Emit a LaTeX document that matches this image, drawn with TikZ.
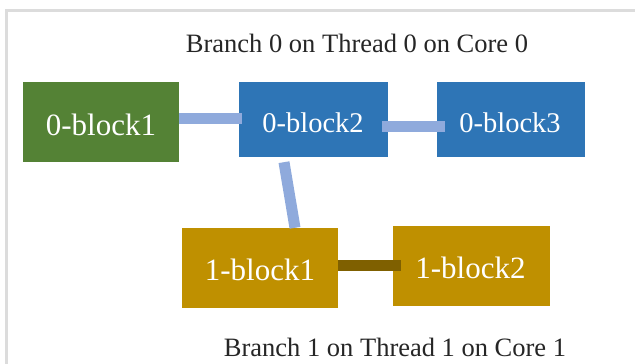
\documentclass[tikz,border=0pt]{standalone}
\usepackage{fontspec}
\setmainfont{Liberation Serif}
\definecolor{cgreen}{HTML}{548235}
\definecolor{cblue}{HTML}{2E75B6}
\definecolor{cgold}{HTML}{BF9000}
\definecolor{clink}{HTML}{8FAADC}
\definecolor{cbrown}{HTML}{7F6000}
\definecolor{cframe}{HTML}{DCDCDC}
\begin{document}
\begin{tikzpicture}[x=1pt,y=-1pt,
  blk/.style={rectangle,inner sep=0pt,text=white},
  bigtxt/.style={font=\fontsize{31}{36}\selectfont},
  midtxt/.style={font=\fontsize{28.5}{34}\selectfont},
  ttl/.style={inner sep=0pt,text=black!85,font=\fontsize{26.5}{32}\selectfont},
  lnk/.style={line width=11pt,clink},
  lnkb/.style={line width=11pt,cbrown}]
\useasboundingbox (0,0) rectangle (635,364);
\fill[white] (0,0) rectangle (635,364);
\draw[cframe,line width=3pt] (6.5,380) -- (6.5,10.5) -- (650,10.5);
\node[ttl] (t0) at (357,43) {Branch 0 on Thread 0 on Core 0};
\node[ttl] (t1) at (395,347) {Branch 1 on Thread 1 on Core 1};
\node[blk,fill=cgreen,minimum width=156pt,minimum height=80pt] (b01) at (101,122) {};
\node[blk,bigtxt] at (101,125) {0-block1};
\node[blk,fill=cblue,minimum width=149pt,minimum height=75pt] (b02) at (313.5,119.5) {};
\node[blk,midtxt] at (313,123) {0-block2};
\node[blk,fill=cblue,minimum width=148pt,minimum height=75pt] (b03) at (511,119.5) {};
\node[blk,midtxt] at (510,123) {0-block3};
\node[blk,fill=cgold,minimum width=156pt,minimum height=80pt] (b11) at (260,268) {};
\node[blk,bigtxt] at (260,270) {1-block1};
\node[blk,fill=cgold,minimum width=157pt,minimum height=80pt] (b12) at (471.5,266) {};
\node[blk,bigtxt] at (470.5,268) {1-block2};
\draw[lnk] ([yshift=1pt]b01.east |- b02.west) -- ([xshift=3pt,yshift=1pt]b02.west);
\draw[lnk] ([xshift=-6pt,yshift=-6.5pt]b02.east) -- ([xshift=8pt,yshift=-6.5pt]b03.west);
\draw[lnk] ([xshift=-29.5pt,yshift=-5pt]b02.south) -- ([xshift=35pt]b11.north);
\draw[lnkb] ([yshift=2.5pt]b11.east) -- ([xshift=8pt,yshift=0.5pt]b12.west);
\end{tikzpicture}
\end{document}
